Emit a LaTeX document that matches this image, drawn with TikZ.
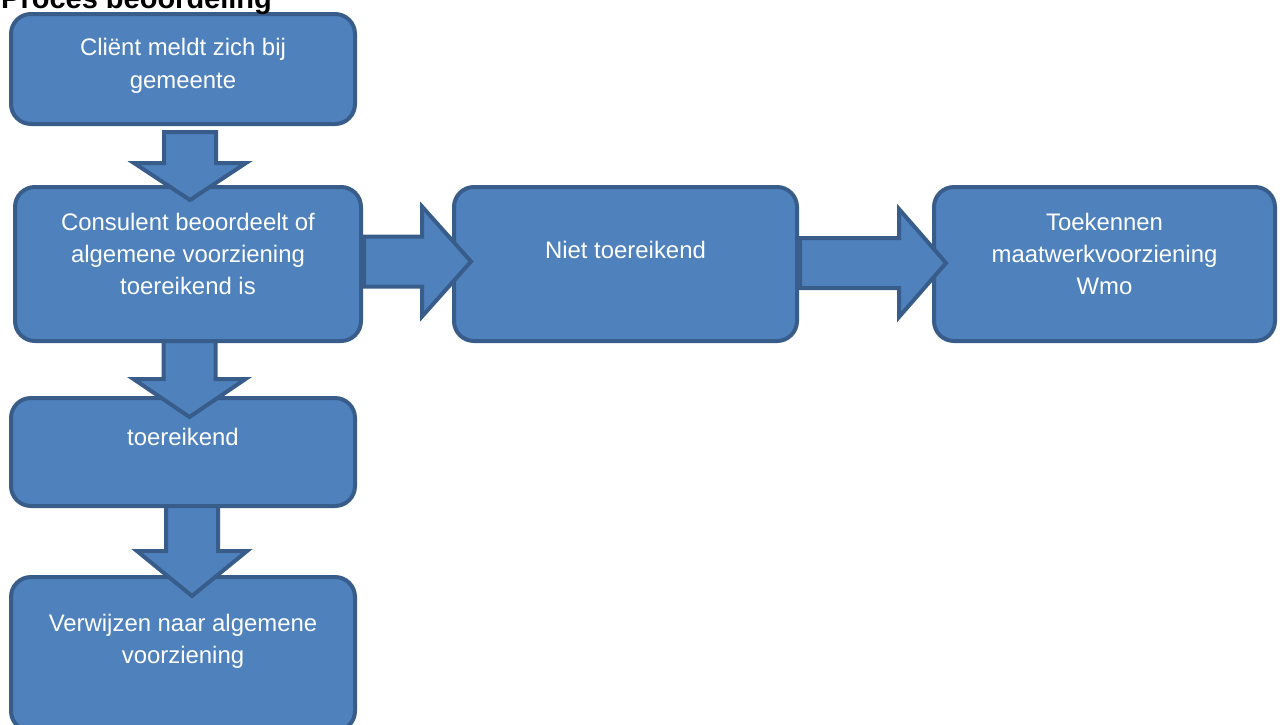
\documentclass[tikz,border=0pt]{standalone}
\usepackage{fontspec}
\setmainfont{Liberation Sans}
\usetikzlibrary{calc}
\definecolor{boxfill}{HTML}{4F81BD}
\definecolor{boxline}{HTML}{385D8A}
% vertical block arrow: #1 start, #2 tip, #3 head length, #4 head half width
\newcommand\downblock[4]{%
  \draw[barrow] ($(#1)+(-26,0)$) -- ($(#1)+(26,0)$) -- ($(#2)+(26,-#3)$) -- ($(#2)+(#4,-#3)$)
    -- (#2) -- ($(#2)+(-#4,-#3)$) -- ($(#2)+(-26,-#3)$) -- cycle;}
% horizontal block arrow
\newcommand\rightblock[4]{%
  \draw[barrow] ($(#1)+(0,-25)$) -- ($(#2)+(-#3,-25)$) -- ($(#2)+(-#3,-#4)$)
    -- (#2) -- ($(#2)+(-#3,#4)$) -- ($(#2)+(-#3,25)$) -- ($(#1)+(0,25)$) -- cycle;}
\begin{document}
\begin{tikzpicture}[x=1pt,y=-1pt,
  box/.style={draw=boxline, fill=boxfill, line width=4pt, rounded corners=20pt, inner sep=0pt},
  txt/.style={text=white, font=\fontsize{23.9}{33}\selectfont, anchor=base, inner sep=0pt},
  barrow/.style={draw=boxline, fill=boxfill, line width=4pt, line join=miter},
  ttl/.style={font=\fontsize{29}{34}\selectfont\bfseries, anchor=base west, inner sep=0pt}]
\useasboundingbox (0,0) rectangle (1280,724);
\clip (0,0) rectangle (1280,724);
% boxes
\node[box, minimum width=344pt, minimum height=110pt] (A) at (183,69) {};
\node[box, minimum width=346pt, minimum height=154pt] (B) at (188,264) {};
\node[box, minimum width=343pt, minimum height=154pt] (C) at (625.5,264) {};
\node[box, minimum width=341pt, minimum height=154pt] (D) at (1104.5,264) {};
\node[box, minimum width=344pt, minimum height=108pt] (E) at (183,452) {};
\node[box, minimum width=344pt, minimum height=154pt] (F) at (183,654) {};
% arrow end points
\coordinate (ab1) at ($(A.south)+(7,6)$);   \coordinate (ab2) at ($(B.north)+(2,15)$);
\coordinate (be1) at ($(B.south)+(1.5,-2)$); \coordinate (be2) at ($(E.north)+(6.5,21)$);
\coordinate (ef1) at ($(E.south)+(9,-2)$);  \coordinate (ef2) at ($(F.north)+(9,21)$);
\coordinate (bc1) at ($(B.east)+(1,-2.5)$); \coordinate (bc2) at ($(C.west)+(19,-2.5)$);
\coordinate (cd1) at ($(C.east)+(1,-1)$);   \coordinate (cd2) at ($(D.west)+(14,-1)$);
\downblock{ab1}{ab2}{37}{56}
\downblock{be1}{be2}{38}{56}
\downblock{ef1}{ef2}{45}{55}
\rightblock{bc1}{bc2}{49}{55}
\rightblock{cd1}{cd2}{47}{54}
% texts
\node[ttl] (title) at (1,8) {Proces beoordeling};
\node[txt] (a1) at (183,55) {Cliënt meldt zich bij};
\node[txt] (a2) at (183,88) {gemeente};
\node[txt] (b1) at (188,230) {Consulent beoordeelt of};
\node[txt] (b2) at (188,262) {algemene voorziening};
\node[txt] (b3) at (188,294) {toereikend is};
\node[txt] (c1) at (625.5,258) {Niet toereikend};
\node[txt] (d1) at (1104.5,230) {Toekennen};
\node[txt] (d2) at (1104.5,262) {maatwerkvoorziening};
\node[txt] (d3) at (1104.5,294) {Wmo};
\node[txt] (e1) at (183,445) {toereikend};
\node[txt] (f1) at (183,631) {Verwijzen naar algemene};
\node[txt] (f2) at (183,663) {voorziening};
\end{tikzpicture}
\end{document}
